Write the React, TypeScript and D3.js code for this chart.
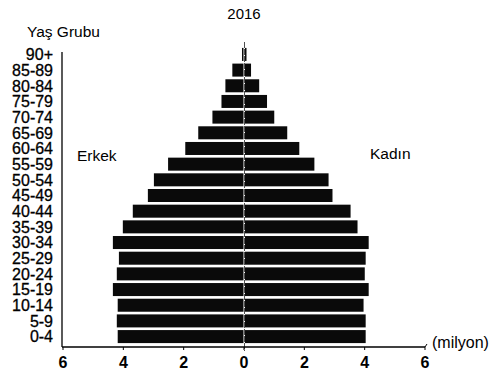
import * as d3 from "d3";

const ageGroups = [
  "90+", "85-89", "80-84", "75-79", "70-74", "65-69", "60-64", "55-59", "50-54",
  "45-49", "40-44", "35-39", "30-34", "25-29", "20-24", "15-19", "10-14", "5-9", "0-4",
];
// milyon kişi
const male = [
  0.05, 0.37, 0.6, 0.73, 1.03, 1.5, 1.93, 2.5, 2.97,
  3.17, 3.67, 4.0, 4.33, 4.13, 4.2, 4.33, 4.17, 4.2, 4.17,
];
const female = [
  0.05, 0.2, 0.47, 0.73, 0.97, 1.4, 1.8, 2.3, 2.77,
  2.9, 3.5, 3.73, 4.1, 4.0, 3.97, 4.1, 3.93, 4.0, 4.0,
];
const ticks = [0, 2, 4, 6];

const W = 496;
const H = 376;
const cx = 244;
const axisY = 347;
const font = "'Liberation Sans', Arial, sans-serif";

export default function App(): JSX.Element {
  const x = d3.scaleLinear().domain([0, 6]).range([0, 181]);
  const y = d3
    .scaleBand<string>()
    .domain(ageGroups)
    .range([44, axisY])
    .paddingInner(0.17)
    .paddingOuter(0.25);
  const bw = y.bandwidth();

  return (
    <svg
      width={W}
      height={H}
      style={{ position: "absolute", left: 0, top: 0, background: "#fff" }}
      fontFamily={font}
    >
      <text x={cx} y={19} textAnchor="middle" fontSize={15}>2016</text>
      <text x={27} y={37} fontSize={15.5}>Yaş Grubu</text>

      {ageGroups.map((g, i) => (
        <g key={g}>
          <rect
            x={cx - 0.5 - x(male[i])}
            y={y(g)}
            width={x(male[i])}
            height={bw}
            fill="#0a0a0a"
          />
          <rect
            x={cx + 1}
            y={y(g)}
            width={x(female[i])}
            height={bw}
            fill="#0a0a0a"
          />
          <text
            x={53}
            y={(y(g) ?? 0) + bw / 2}
            dy="0.36em"
            textAnchor="end"
            fontSize={16}
            stroke="#000"
            strokeWidth={0.3}
          >
            {g}
          </text>
        </g>
      ))}

      {/* center line */}
      <line x1={cx + 0.5} x2={cx + 0.5} y1={42} y2={axisY + 4} stroke="#222" strokeWidth={0.8} strokeDasharray="6 1" />

      {/* left axis */}
      <line x1={62} x2={62} y1={52} y2={axisY} stroke="#000" strokeWidth={1.3} />
      {/* bottom axis */}
      <line x1={62} x2={cx + x(6)} y1={axisY} y2={axisY} stroke="#000" strokeWidth={1.3} />
      <line x1={cx + x(6)} x2={cx + x(6) + 2} y1={axisY} y2={axisY - 3} stroke="#000" strokeWidth={1} />

      {ticks.map((t) => (
        <g key={"l" + t}>
          <line x1={cx - x(t)} x2={cx - x(t)} y1={axisY} y2={axisY + 3} stroke="#000" />
          <text x={cx - x(t)} y={368} textAnchor="middle" fontSize={16} fontWeight="bold">{t}</text>
        </g>
      ))}
      {ticks.filter((t) => t > 0).map((t) => (
        <g key={"r" + t}>
          <line x1={cx + x(t)} x2={cx + x(t)} y1={axisY} y2={axisY + 3} stroke="#000" />
          <text x={cx + x(t)} y={368} textAnchor="middle" fontSize={16} fontWeight="bold">{t}</text>
        </g>
      ))}

      <text x={77} y={161} fontSize={15.5}>Erkek</text>
      <text x={370} y={159} fontSize={15.5}>Kadın</text>
      <text x={432} y={348} fontSize={16}>(milyon)</text>
    </svg>
  );
}
